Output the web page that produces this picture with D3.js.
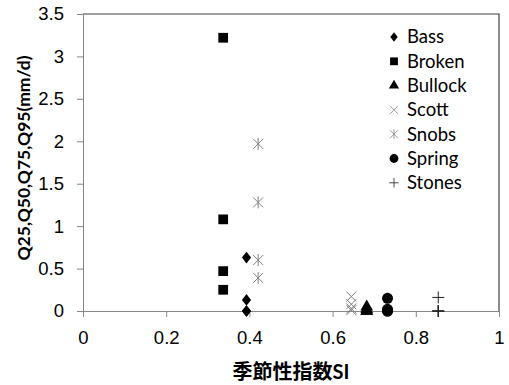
<!DOCTYPE html>
<html>
<head>
<meta charset="utf-8">
<script src="https://cdn.jsdelivr.net/npm/d3@7"></script>
<style>
  body { margin: 0; background: #fff; }
  svg { display: block; font-family: Lato, "Noto Sans CJK JP", sans-serif; }
</style>
</head>
<body>
<div id="chart"></div>
<script>
// site names and seasonality index SI (x) with flow quantiles Q25..Q95 (y)
const sites = ['Bass', 'Broken', 'Bullock', 'Scott', 'Snobs', 'Spring', 'Stones'];
const siValues = [0.393, 0.337, 0.682, 0.645, 0.421, 0.732, 0.854];
const bassQ = [0.63, 0.13, 0.0, 0.0];
const brokenQ = [3.22, 1.08, 0.47, 0.25];
const bullockQ = [0.05, 0.02, 0.0, 0.0];
const scottQ = [0.17, 0.08, 0.03, 0.01];
const snobsQ = [1.97, 1.28, 0.6, 0.39];
const springQ = [0.15, 0.02, 0.0, 0.0];
const stonesQ = [0.16, 0.0, 0.0, 0.0];
const quantiles = [bassQ, brokenQ, bullockQ, scottQ, snobsQ, springQ, stonesQ];
const xTicks = [0, 0.2, 0.4, 0.6, 0.8, 1];
const yTicks = [0, 0.5, 1, 1.5, 2, 2.5, 3, 3.5];

const width = 509, height = 385;
const margin = { top: 14, right: 10, bottom: 74, left: 83 };

const svg = d3.select('#chart').append('svg')
  .attr('width', width)
  .attr('height', height);

const x = d3.scaleLinear().domain([0, 1]).range([margin.left, width - margin.right]);
const y = d3.scaleLinear().domain([0, 3.5]).range([height - margin.bottom, margin.top]);

// plot frame (top/right dark lines)
svg.append('path')
  .attr('d', `M${x(0)},${y(3.5)}H${x(1)}V${y(0)}`)
  .attr('fill', 'none')
  .attr('stroke', '#404040')
  .attr('stroke-width', 1.2);

// axes
const xAxis = svg.append('g')
  .attr('transform', `translate(0,${y(0)})`)
  .call(d3.axisBottom(x).tickValues(xTicks).tickFormat(d3.format('')).tickSize(6).tickPadding(14));
const yAxis = svg.append('g')
  .attr('transform', `translate(${x(0)},0)`)
  .call(d3.axisLeft(y).tickValues(yTicks).tickFormat(d3.format('')).tickSize(6).tickPadding(13));

[xAxis, yAxis].forEach(g => {
  g.select('.domain').attr('stroke', '#868686');
  g.selectAll('.tick line').attr('stroke', '#868686');
  g.selectAll('.tick text')
    .attr('fill', '#000')
    .style('font-size', '18.5px');
});

// axis titles
svg.append('text')
  .attr('x', 291)
  .attr('y', 379)
  .attr('text-anchor', 'middle')
  .style('font-size', '20px')
  .style('font-weight', 'bold')
  .text('季節性指数SI');

svg.append('text')
  .attr('transform', 'translate(30,158) rotate(-90)')
  .attr('text-anchor', 'middle')
  .style('font-size', '17.5px')
  .style('font-weight', 'bold')
  .text('Q25,Q50,Q75,Q95(mm/d)');

// marker drawing per site
const sym = (type, size) => d3.symbol().type(type).size(size)();
function drawMarker(g, name) {
  switch (name) {
    case 'Bass':
      g.append('path').attr('d', sym(d3.symbolDiamond, 55)).attr('transform', 'scale(1.15,0.85)').attr('fill', '#000');
      break;
    case 'Broken':
      g.append('path').attr('d', sym(d3.symbolSquare, 95)).attr('fill', '#000');
      break;
    case 'Bullock':
      g.append('path').attr('d', sym(d3.symbolTriangle, 70)).attr('fill', '#000');
      break;
    case 'Scott':
      g.append('path').attr('d', 'M-5,-5L5,5M-5,5L5,-5').attr('stroke', '#808080').attr('stroke-width', 1);
      break;
    case 'Snobs':
      g.append('path').attr('d', 'M-5,-5L5,5M-5,5L5,-5M0,-6V6').attr('stroke', '#808080').attr('stroke-width', 1);
      break;
    case 'Spring':
      g.append('circle').attr('r', 5.5).attr('fill', '#000');
      break;
    case 'Stones':
      g.append('path').attr('d', 'M-6,0H6M0,-6V6').attr('stroke', '#222').attr('stroke-width', 1);
      break;
  }
}

// points
sites.forEach((name, i) => {
  quantiles[i].forEach(q => {
    const g = svg.append('g').attr('transform', `translate(${x(siValues[i])},${y(q)})`);
    drawMarker(g, name);
  });
});

// legend
const legend = svg.append('g').attr('transform', 'translate(394,37)');
sites.forEach((name, i) => {
  const row = legend.append('g').attr('transform', `translate(0,${i * 24.3})`);
  const m = row.append('g').attr('transform', 'scale(0.8)');
  drawMarker(m, name);
  row.append('text')
    .attr('x', 13)
    .attr('dy', '0.35em')
    .style('font-size', '18.5px')
    .text(name);
});
</script>
</body>
</html>
